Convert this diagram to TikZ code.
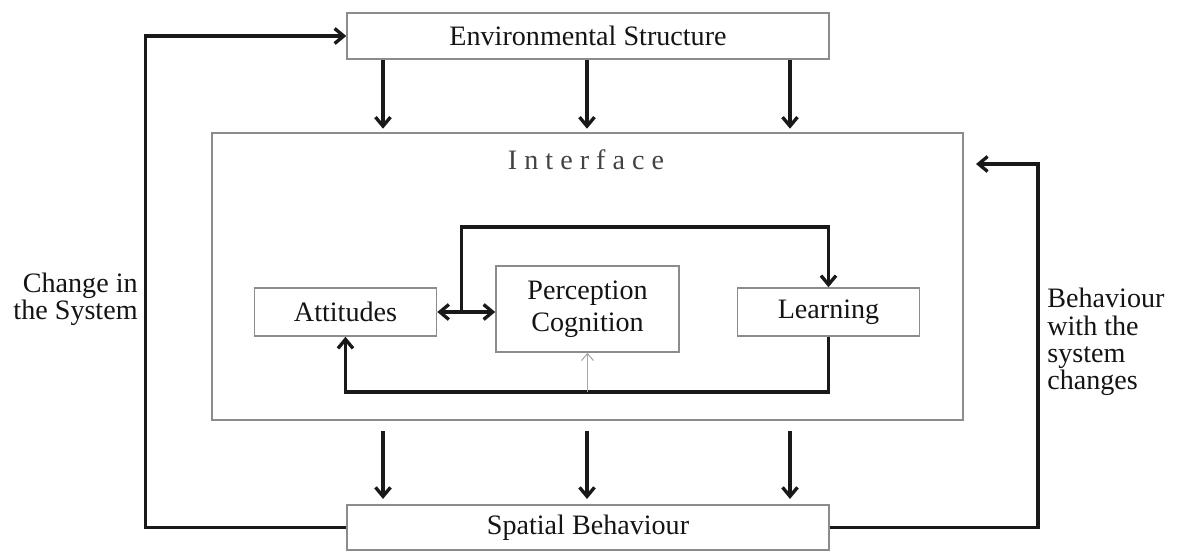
\documentclass[tikz,border=0pt]{standalone}
\usepackage{fontspec}
\setmainfont{Liberation Serif}
\usetikzlibrary{arrows.meta,positioning,calc}
\definecolor{ink}{HTML}{141414}
\definecolor{frame}{HTML}{8C8C8C}
\definecolor{faint}{HTML}{A6A6A6}
\tikzset{box/.style={draw=frame,line width=0.9pt,align=center,text=ink,
  font=\fontsize{16}{19}\selectfont,inner sep=2pt},
  wide/.style={box,minimum width=9.64cm,minimum height=0.93cm},
  inner/.style={box,minimum width=3.64cm,minimum height=0.96cm},
  sidetext/.style={text=ink,font=\fontsize{16}{15.5}\selectfont,inner sep=0pt},
  barb/.tip={Straight Barb[length=1.8mm,width=3mm,line width=1.9pt]},
  arrow/.style={-barb,line width=2pt,draw=black!90},
  twoway/.style={barb-barb,line width=2pt,draw=black!90},
  thinarrow/.style={-{Straight Barb[length=1.4mm,width=2.4mm]},line width=0.6pt,draw=faint}}

\begin{document}
\begin{tikzpicture}[x=0.02cm,y=-0.02cm]
\useasboundingbox (0,0) rectangle (1187,554);
% outer boxes
\node[wide] (env) at (588,36) {Environmental Structure};
\node[box,minimum width=15.02cm,minimum height=5.74cm] (iface) at (587.5,276.5) {};
\node[text=ink!80,font=\fontsize{16}{19}\selectfont] (ilabel) at (586,160) {I n t e r f a c e};
\node[wide,minimum height=0.9cm] (spat) at (588,527.5) {Spatial Behaviour};
% inner boxes
\node[inner] (att) at (345.5,312) {Attitudes};
\node[box,minimum width=3.66cm,minimum height=1.72cm,font=\fontsize{16}{18.5}\selectfont] (perc) at (587.5,309) {Perception\\Cognition};
\node[inner] (learn) at (828.5,312) {Learning};
% side labels
\node[sidetext,align=right,anchor=east] (chg) at (138,299) {Change in\\the System};
\node[sidetext,align=left,anchor=west] (beh) at (1047,342) {Behaviour\\with the\\system\\changes};
% arrows between env, interface and spatial behaviour
\foreach \x in {383,587,790}{
  \draw[arrow] (env.south -| \x,0) -- ([yshift=2pt]iface.north -| \x,0);
  \draw[arrow,shorten <=6pt] (iface.south -| \x,0) -- ([yshift=3pt]spat.north -| \x,0);
}
% feedback loops
\coordinate (rin) at (976,164);
\draw[arrow] (spat.west) -- ++(-201,0) |- (env.west);
\draw[arrow] (spat.east) -- ++(208,0) |- (rin);
% inside the interface
\coordinate (split) at ($(att.east)!0.42!(att.east -| perc.west)$);
\draw[twoway] (att.east) -- (att.east -| perc.west);
\draw[arrow] (split) -- (split |- 0,227) -| (learn.north);
\draw[arrow] (learn.south) -- (learn.south |- 0,392) -| (att.south);
\draw[thinarrow] (perc.south |- 0,392) -- (perc.south);
\end{tikzpicture}
\end{document}
